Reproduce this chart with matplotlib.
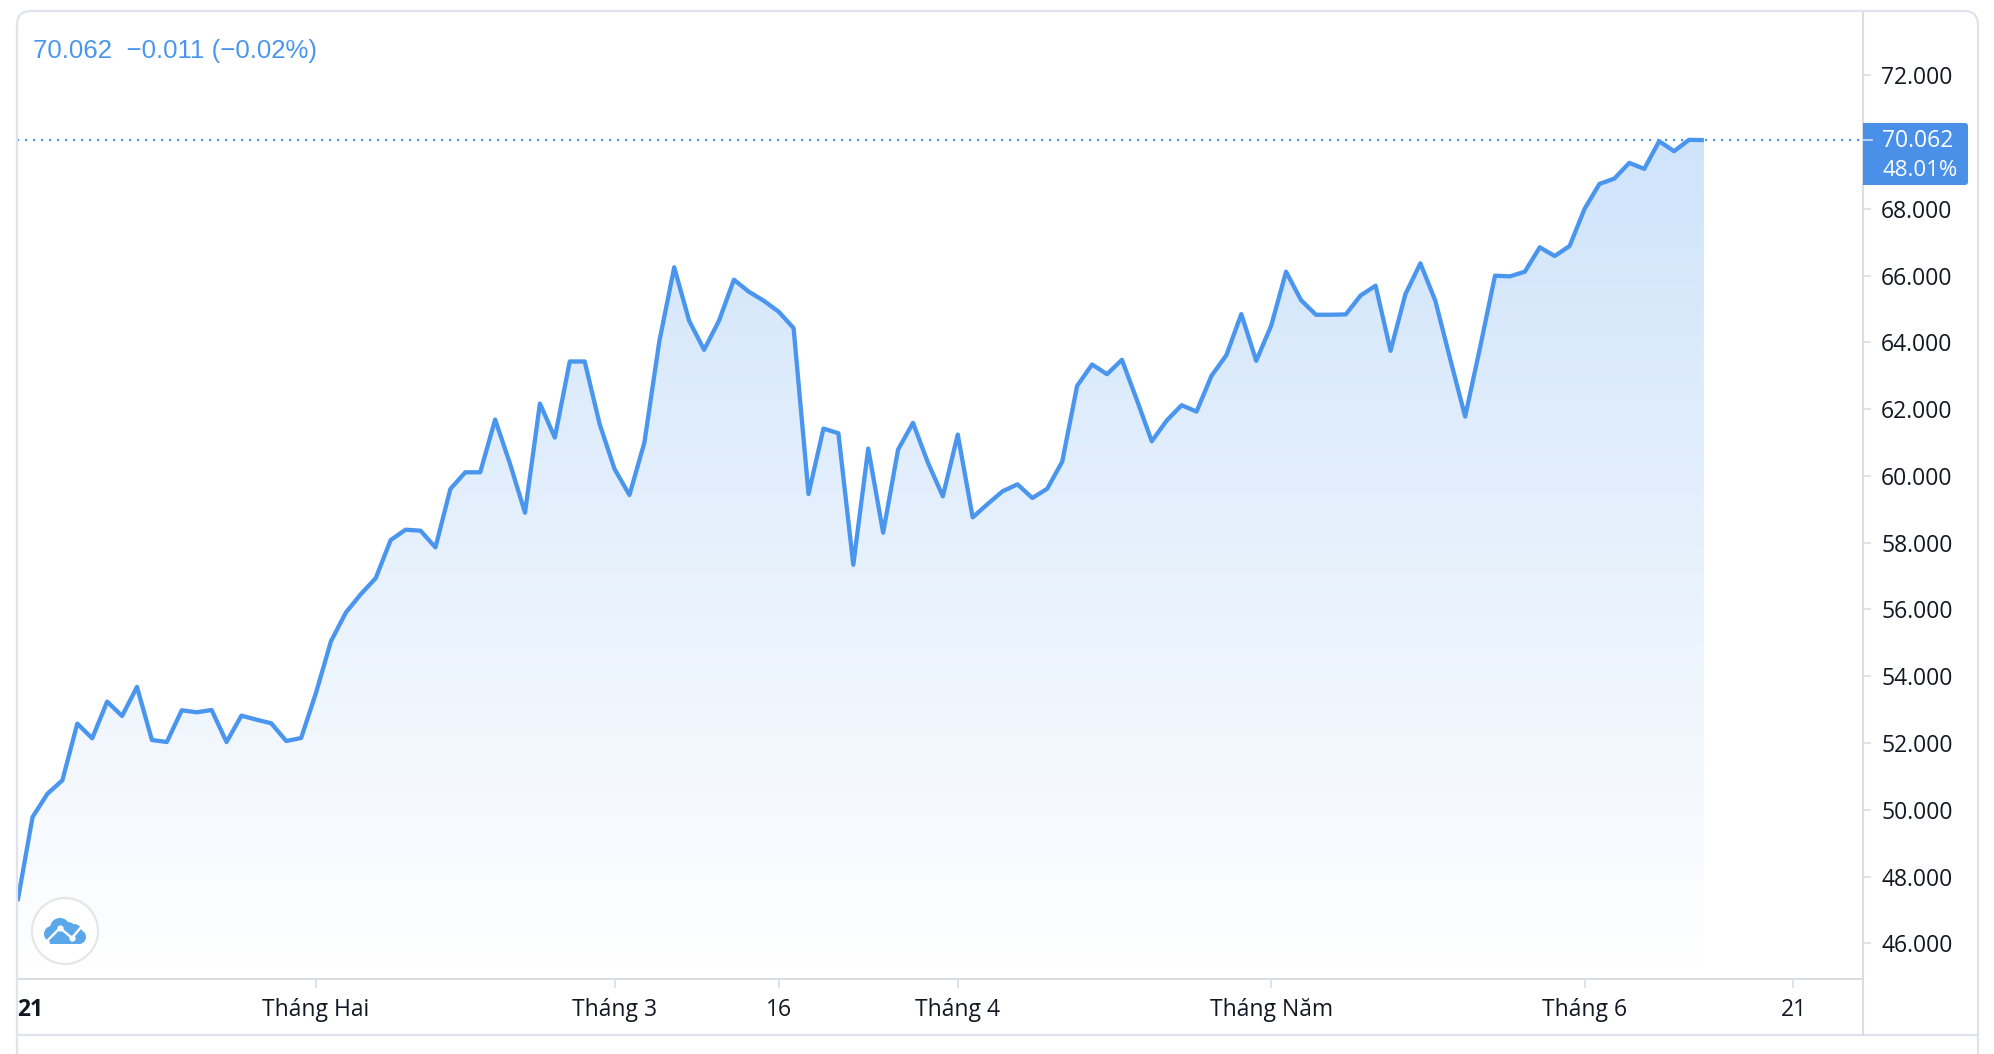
import numpy as np
from matplotlib import pyplot as plt
from matplotlib.patches import Circle, FancyBboxPatch, Polygon, Rectangle

# daily close
prices = [47.26, 49.78, 50.48, 50.88, 52.58, 52.14, 53.24, 52.81, 53.68, 52.09,
          52.03, 52.98, 52.92, 52.99, 52.03, 52.82, 52.70, 52.59, 52.06, 52.15,
          53.51, 55.05, 55.91, 56.46, 56.94, 58.08, 58.39, 58.36, 57.86, 59.61,
          60.11, 60.11, 61.69, 60.36, 58.90, 62.17, 61.15, 63.43, 63.43, 61.56,
          60.21, 59.43, 61.00, 64.03, 66.25, 64.65, 63.78, 64.65, 65.88, 65.52,
          65.25, 64.92, 64.43, 59.46, 61.42, 61.28, 57.34, 60.82, 58.30, 60.79,
          61.59, 60.40, 59.39, 61.24, 58.76, 59.16, 59.54, 59.75, 59.34, 59.62,
          60.43, 62.70, 63.34, 63.05, 63.48, 62.28, 61.04, 61.66, 62.12, 61.93,
          63.00, 63.62, 64.85, 63.45, 64.50, 66.12, 65.27, 64.83, 64.83, 64.84,
          65.41, 65.70, 63.75, 65.45, 66.37, 65.25, 63.50, 61.78, 63.85, 66.00,
          65.98, 66.12, 66.85, 66.59, 66.89, 68.00, 68.75, 68.91, 69.38, 69.20,
          70.03, 69.73, 70.07, 70.062]
y_ticks = [46, 48, 50, 52, 54, 56, 58, 60, 62, 64, 66, 68, 72]
x_tick_pos = [0, 20, 40, 51, 63, 84, 105, 119]
x_tick_labels = ["21", "Tháng Hai", "Tháng 3", "16", "Tháng 4", "Tháng Năm", "Tháng 6", "21"]
last_price = "70.062"
last_pct = "48.01%"
header = "70.062  \u22120.011 (\u22120.02%)"

BLUE = "#4a96ee"
GRID = "#dcdde3"
INK = "#131722"
W, H = 1994, 1054
AX_L, AX_R, AX_T, AX_B = 17, 1863, 12, 979
FRAME_TOP = 11
XLIM = (-0.04, 123.66)
YLIM = (44.93, 73.90)

plt.rcParams["font.family"] = ["Open Sans", "DejaVu Sans"]

fig = plt.figure(figsize=(W / 100, H / 100), dpi=100, facecolor="white")
ax = fig.add_axes([AX_L / W, 1 - AX_B / H, (AX_R - AX_L) / W, (AX_B - AX_T) / H])
for side in ["top", "left"]:
    ax.spines[side].set_visible(False)
for side in ["right", "bottom"]:
    ax.spines[side].set_color(GRID)
    ax.spines[side].set_linewidth(1.4)

x = np.arange(len(prices))

# gradient area under the line, fades out towards the axis
rgba = np.zeros((256, 1, 4))
rgba[..., :3] = (0.29, 0.59, 0.93)
rgba[..., 3] = np.linspace(0.28, 0, 256).reshape(-1, 1)
grad = ax.imshow(rgba, extent=[x[0], x[-1], YLIM[0], 71.5], origin="upper",
                 aspect="auto", zorder=1)
area = Polygon(list(zip(x, prices)) + [(x[-1], YLIM[0]), (x[0], YLIM[0])], closed=True,
               transform=ax.transData, facecolor="none", edgecolor="none")
ax.add_patch(area)
grad.set_clip_path(area)
ax.set_xlim(*XLIM)
ax.set_ylim(*YLIM)

ax.axhline(70.062, color=BLUE, lw=1.6, ls=(0, (1.0, 2.6)), zorder=2)
ax.plot(x, prices, color=BLUE, lw=3.1, solid_joinstyle="round", solid_capstyle="butt", zorder=3)

ax.yaxis.tick_right()
ax.set_yticks(y_ticks)
ax.set_yticklabels([f"{v}.000" for v in y_ticks], fontsize=16.5, color=INK)
ax.tick_params(axis="y", length=6, width=1.2, color=GRID, pad=7)
ax.set_xticks(x_tick_pos)
ax.set_xticklabels(x_tick_labels, fontsize=16.5, color=INK)
ax.tick_params(axis="x", length=6.5, width=1.2, color=GRID, pad=7)
first = ax.get_xticklabels()[0]
first.set_fontweight("bold")
first.set_horizontalalignment("left")
ax.get_xticklines()[0].set_visible(False)

# page furniture drawn in pixel coordinates
over = fig.add_axes([0, 0, 1, 1], zorder=5)
over.set_xlim(0, W)
over.set_ylim(H, 0)
over.axis("off")
over.patch.set_alpha(0)
over.add_patch(FancyBboxPatch((AX_L, FRAME_TOP), 1978 - AX_L, 1200, boxstyle="round,pad=0,rounding_size=14",
                              fc="none", ec="#e0e3eb", lw=1.6))
over.plot([AX_L, 1978], [1035, 1035], color="#e0e3eb", lw=1.6)
over.plot([AX_R, AX_R], [AX_B, 1035], color=GRID, lw=1.4)

# last price badge
over.add_patch(FancyBboxPatch((AX_R, 123), 105, 62, boxstyle="round,pad=0,rounding_size=3",
                              fc="#4a90e9", ec="none"))
over.add_patch(Rectangle((AX_R, 123), 6, 62, fc="#4a90e9", ec="none"))
over.plot([AX_R, 1872], [140, 140], color="#cfe0f7", lw=1.2)
over.text(1882, 141, last_price, color="white", fontsize=16.5, va="center", ha="left")
over.text(1882, 170, last_pct, color="white", fontsize=16, va="center", ha="left")

over.text(33, 51, header, color=BLUE, fontsize=18.6, va="center", ha="left",
          family=["Liberation Sans", "DejaVu Sans"])

# logo
over.add_patch(Circle((65, 931), 33, fc="white", ec="#e6e6e6", lw=1.6))
cloud = "#5aa7ea"
for cx, cy, r in [(60, 928, 10), (52, 934, 8), (74, 932, 8), (79, 937, 7), (68, 930, 8)]:
    over.add_patch(Circle((cx, cy), r, fc=cloud, ec="none"))
over.add_patch(Rectangle((50, 934), 30, 9.5, fc=cloud, ec="none"))
over.plot([45, 60, 72, 82], [943, 928, 938, 926], color="white", lw=1.7)
over.plot([60, 72], [928, 938], "o", color="white", ms=3.5)

fig.savefig("out.png", dpi=100)
